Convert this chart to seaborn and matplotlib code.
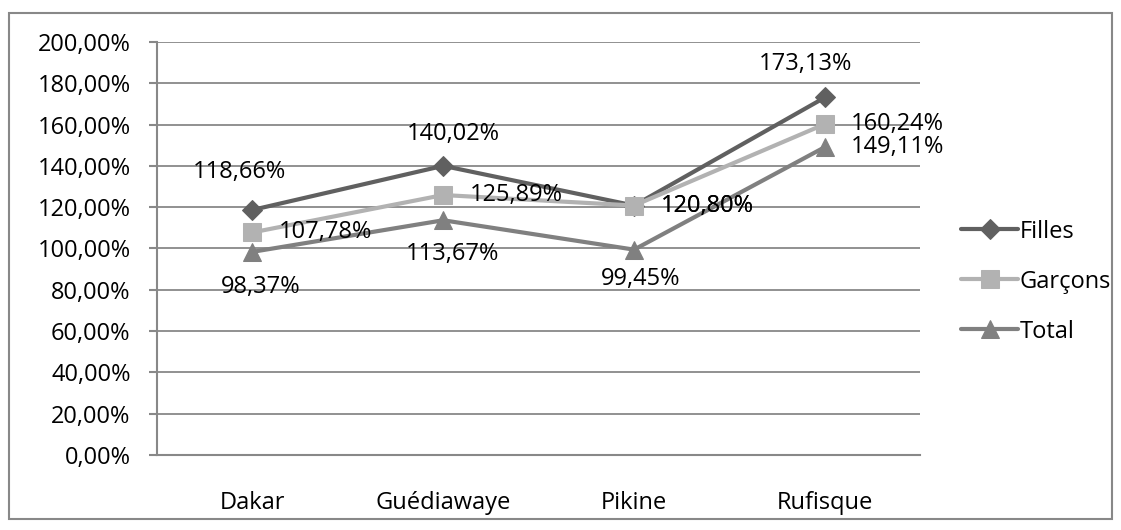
import pandas as pd
import numpy as np
import seaborn as sns
import matplotlib.pyplot as plt
from matplotlib.patches import Rectangle

regions = ["Dakar", "Guédiawaye", "Pikine", "Rufisque"]
filles = [118.66, 140.02, 120.80, 173.13]
garcons = [107.78, 125.89, 120.80, 160.24]
total = [98.37, 113.67, 99.45, 149.11]
series = ["Filles", "Garçons", "Total"]

df = pd.DataFrame({
    "x": list(range(4)) * 3,
    "region": regions * 3,
    "val": filles + garcons + total,
    "serie": [s for s in series for _ in range(4)],
})

sns.set_style("white")
plt.rcParams['font.family'] = ['Open Sans', 'DejaVu Sans']
plt.rcParams['font.size'] = 17
plt.rcParams['text.color'] = 'black'
plt.rcParams['xtick.color'] = 'black'
plt.rcParams['ytick.color'] = 'black'

fig = plt.figure(figsize=(11.21, 5.30), dpi=100)
ax = fig.add_axes([0.140, 0.1415, 0.681, 0.7793])

colors = {"Filles": "#606060", "Garçons": "#b2b2b2", "Total": "#808080"}
markers = {"Filles": "D", "Garçons": "s", "Total": "^"}
sizes = {"Filles": 10, "Garçons": 13, "Total": 13}

for s in series:
    d = df[df.serie == s]
    sns.lineplot(data=d, x="x", y="val", ax=ax, color=colors[s], lw=3,
                 marker=markers[s], markersize=sizes[s], markeredgecolor=colors[s],
                 label=s, zorder=3)

def fmt(v):
    return f"{v:.2f}".replace(".", ",") + "%"

# label offsets in points (dx, dy, ha)
off_f = [(-9, 27, "center"), (7, 23, "center"), (19, 0, "left"), (-14, 24, "center")]
off_g = [(19, 0, "left"), (19, 0, "left"), (19, 0, "left"), (19, 0, "left")]
off_t = [(6, -25, "center"), (7, -24, "center"), (5, -21, "center"), (19, 0, "left")]

for vals, offs in [(filles, off_f), (garcons, off_g), (total, off_t)]:
    for i, v in enumerate(vals):
        dx, dy, ha = offs[i]
        ax.annotate(fmt(v), (i, v), xytext=(dx, dy), textcoords="offset points",
                    ha=ha, va="center", fontsize=17, color="black", zorder=4)

ax.set_xlim(-0.5, 3.5)
ax.set_ylim(0, 200)
ax.set_yticks(np.arange(0, 201, 20))
ax.set_yticklabels([f"{t},00%" for t in range(0, 201, 20)])
ax.set_xticks(range(4))
ax.set_xticklabels(regions)
ax.set_xticks(np.arange(-0.5, 3.6, 1), minor=True)
ax.tick_params(axis="x", which="major", length=0, pad=26)
ax.tick_params(axis="x", which="minor", length=6, color="#888888", width=1.5)
ax.tick_params(axis="y", length=6, color="#888888", width=1.5, left=True, pad=13)
ax.set_xlabel("")
ax.set_ylabel("")
ax.grid(axis="y", color="#888888", lw=1.3)
ax.set_axisbelow(True)
for sp in ["top", "right"]:
    ax.spines[sp].set_visible(False)
for sp in ["left", "bottom"]:
    ax.spines[sp].set_color("#888888")
    ax.spines[sp].set_linewidth(1.5)

leg = ax.legend(loc="center left", bbox_to_anchor=(1.026, 0.42), frameon=False,
                fontsize=17, handlelength=2.4, handletextpad=0.05, labelspacing=1.1)
for t in leg.get_texts():
    t.set_color("black")

fig.patches.append(Rectangle((0.008, 0.02), 0.984, 0.955, transform=fig.transFigure,
                             fill=False, edgecolor="#888888", lw=1.5))

plt.savefig("out.png", dpi=100)
